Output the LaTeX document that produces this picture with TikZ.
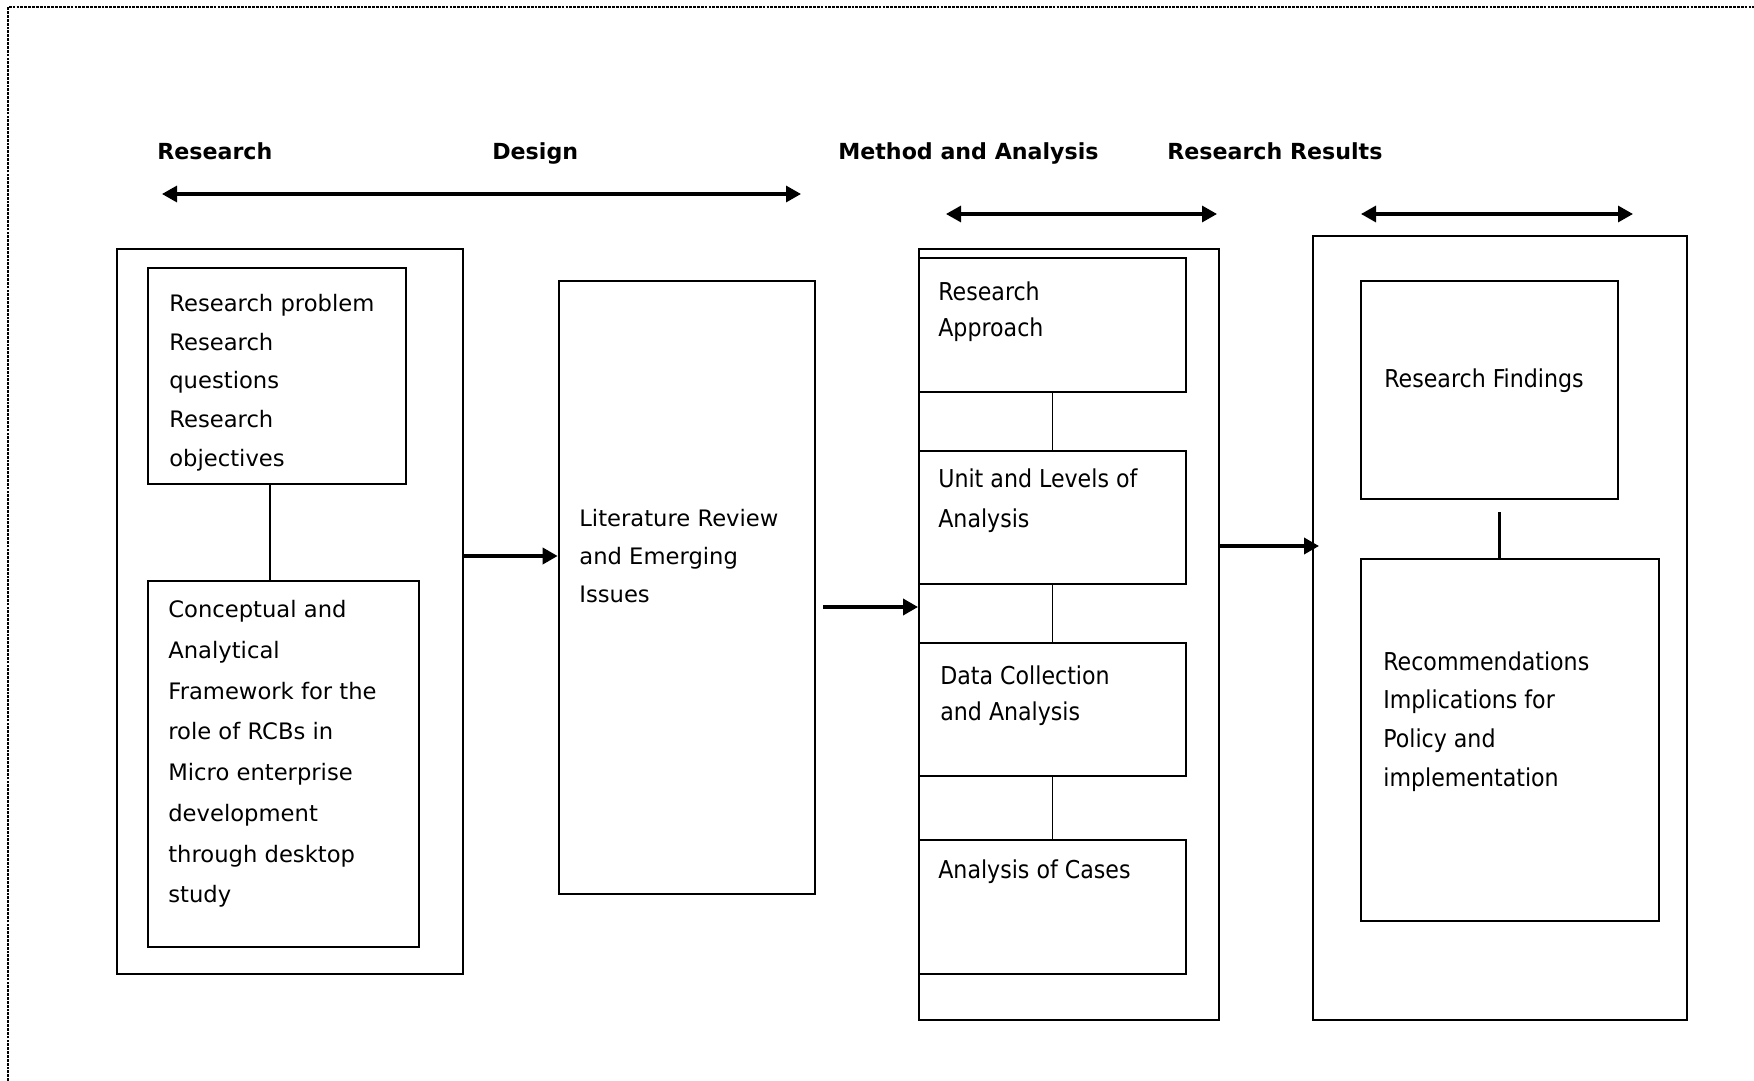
\documentclass[tikz,border=0pt]{standalone}
\usepackage{fontspec}
\setmainfont{DejaVu Sans}
\newfontfamily\narrowfont{DejaVu Sans Condensed}
\usetikzlibrary{positioning,arrows.meta,fit,calc}
\tikzset{
  outbox/.style  ={draw, line width=1.1pt, inner sep=0pt},
  box/.style     ={draw, line width=1.4pt, inner sep=0pt},
  txt/.style     ={anchor=north west, align=left, inner sep=0pt,
                   font=\fontsize{12.9}{22}\selectfont},
  txtn/.style    ={anchor=north west, align=left, inner sep=0pt,
                   font=\narrowfont\fontsize{14}{21}\selectfont},
  phase/.style   ={anchor=base west, inner sep=0pt,
                   font=\bfseries\fontsize{12.6}{15}\selectfont},
  ar/.style      ={-{Triangle[length=3mm,width=3.2mm]}, line width=2pt},
  spanar/.style  ={{Triangle[length=3mm,width=3.2mm]}-{Triangle[length=3mm,width=3.2mm]},
                   line width=1.8pt},
  joint/.style   ={line width=1.3pt},
  pageframe/.style={line width=0.8pt, dash pattern=on 1.6pt off 0.6pt}
}
\begin{document}
\begin{tikzpicture}[x=0.2mm, y=-0.2mm]
\useasboundingbox (0,0) rectangle (1754,1081);
\draw[pageframe] (8,1081) -- (8,7) -- (1754,7);

% phase headings
\node[phase] (hres) at (157,160) {Research};
\node[phase] (hdes) at (492,160) {Design};
\node[phase] (hmet) at (838,160) {Method and Analysis};
\node[phase] (hout) at (1167,160) {Research Results};

\coordinate (s1a) at (162,194);  \coordinate (s1b) at (801,194);
\coordinate (s2a) at (946,214);  \coordinate (s2b) at (1217,214);
\coordinate (s3a) at (1361,214); \coordinate (s3b) at (1633,214);
\draw[spanar] (s1a) -- (s1b);
\draw[spanar] (s2a) -- (s2b);
\draw[spanar] (s3a) -- (s3b);

% design
\node[outbox, line width=1.4pt, fit={(117,249) (463,974)}] (out1) {};
\node[box, fit={(148,268) (406,484)}] (rp) {};
\node[box, fit={(148,581) (419,947)}] (cf) {};
\node[txt] (rpt) at (169,294)
  {Research problem\\Research\\questions\\Research\\objectives};
\node[txt, font=\fontsize{12.9}{23.2}\selectfont] (cft) at (168,600)
  {Conceptual and\\Analytical\\Framework for the\\role of RCBs in\\Micro enterprise\\development\\through desktop\\study};
\draw[joint] ([xshift=-1.4mm]rp.south) coordinate (rps) -- (rps |- cf.north);

\node[box, line width=1.5pt, fit={(559,281) (815,894)}] (lit) {};
\node[txt, font=\fontsize{12.9}{21.6}\selectfont] (litt) at (579,509)
  {Literature Review\\and Emerging\\Issues};

% method
\node[outbox, fit={(919,249) (1219,1020)}] (out3) {};
\node[box, line width=1.1pt, fit={(919,258) (1186,392)}] (ra) {};
\node[box, line width=1.1pt, fit={(919,451) (1186,584)}] (ul) {};
\node[box, line width=1.1pt, fit={(919,643) (1186,776)}] (dc) {};
\node[box, line width=1.1pt, fit={(919,840) (1186,974)}] (ac) {};
\node[txtn] (rat) at (938,281) {Research\\Approach};
\node[txtn, font=\narrowfont\fontsize{14}{23}\selectfont] (ult) at (938,468)
  {Unit and Levels of\\Analysis};
\node[txtn] (dct) at (940,665) {Data Collection\\and Analysis};
\node[txtn] (act) at (938,859) {Analysis of Cases};
\draw[joint, line width=1pt] (ra.south) -- (ul.north);
\draw[joint, line width=1pt] (ul.south) -- (dc.north);
\draw[joint, line width=1pt] (dc.south) -- (ac.north);

% results
\node[outbox, fit={(1313,236) (1687,1020)}] (out4) {};
\node[box, line width=1.5pt, fit={(1361,281) (1618,499)}] (rf) {};
\node[box, line width=1.5pt, fit={(1361,559) (1659,921)}] (rec) {};
\node[txtn] (rft) at (1384,368) {Research Findings};
\node[txtn, font=\narrowfont\fontsize{14}{22}\selectfont] (rect) at (1383,651)
  {Recommendations\\Implications for\\Policy and\\implementation};
\draw[joint] ([shift={(10,12)}]rf.south) coordinate (rfs) -- (rfs |- rec.north);

% flow
\draw[ar] (out1.east |- 0,556) -- (lit.west |- 0,556);
\draw[ar] ([xshift=1.4mm]lit.east |- 0,607) -- (out3.west |- 0,607);
\draw[ar] (out3.east |- 0,546) -- ([xshift=1.4mm]out4.west |- 0,546);
\end{tikzpicture}
\end{document}
